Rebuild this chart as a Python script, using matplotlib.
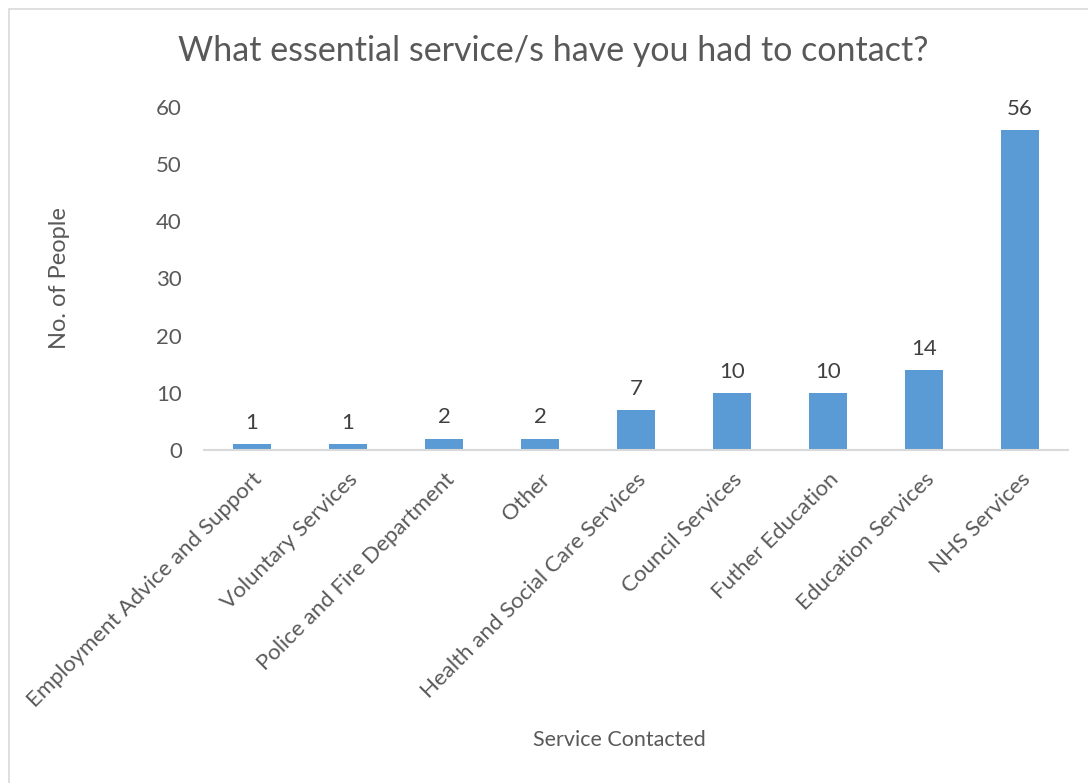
"""Bar chart of which essential services survey respondents had to contact."""

import matplotlib

matplotlib.use("Agg")
import matplotlib.pyplot as plt
from matplotlib.patches import Rectangle

services = [
    "Employment Advice and Support",
    "Voluntary Services",
    "Police and Fire Department",
    "Other",
    "Health and Social Care Services",
    "Council Services",
    "Futher Education",
    "Education Services",
    "NHS Services",
]
people = [1, 1, 2, 2, 7, 10, 10, 14, 56]
y_ticks = [0, 10, 20, 30, 40, 50, 60]

BAR_COLOR = "#5B9BD5"
TEXT_COLOR = "#595959"
LABEL_COLOR = "#404040"
LINE_COLOR = "#D9D9D9"

plt.rcParams["font.family"] = ["Lato", "DejaVu Sans"]

W, H = 1088, 783
fig = plt.figure(figsize=(W / 100, H / 100), dpi=100)
ax = fig.add_axes([204 / W, 1 - 450 / H, 864 / W, 343 / H])

# chart frame (only top/left edges fall inside the canvas)
fig.patches.append(Rectangle((9 / W, -0.1), 1.2, 1 - 9 / H + 0.1,
                             transform=fig.transFigure, fill=False,
                             edgecolor="#D9D9D9", linewidth=1.2))

x = range(len(services))
bars = ax.bar(x, people, width=0.4, color=BAR_COLOR, zorder=2)
for b, v in zip(bars, people):
    ax.annotate(str(v), (b.get_x() + b.get_width() / 2, v),
                xytext=(0, 8), textcoords="offset points",
                ha="center", va="bottom", fontsize=16, color=LABEL_COLOR)

ax.set_xlim(-0.5, len(services) - 0.5)
ax.set_ylim(0, 60)
ax.set_yticks(y_ticks)
ax.set_xticks(list(x))
ax.set_xticklabels(services, rotation=45, ha="right", rotation_mode="anchor",
                   fontsize=16, color=TEXT_COLOR)
ax.tick_params(axis="y", length=0, pad=16, labelsize=16, labelcolor=TEXT_COLOR)
ax.tick_params(axis="x", length=0, pad=14)

for side in ("top", "right", "left"):
    ax.spines[side].set_visible(False)
ax.spines["bottom"].set_color(LINE_COLOR)
ax.spines["bottom"].set_linewidth(1.5)

fig.text(553 / W, 1 - 51 / H, "What essential service/s have you had to contact?",
         ha="center", va="center", fontsize=24.5, color=TEXT_COLOR)
fig.text(619 / W, 1 - 740 / H, "Service Contacted",
         ha="center", va="center", fontsize=15.5, color=TEXT_COLOR)
fig.text(60 / W, 1 - 278 / H, "No. of People", rotation=90,
         ha="center", va="center", fontsize=17, color=TEXT_COLOR)

fig.savefig("out.png", dpi=100)
